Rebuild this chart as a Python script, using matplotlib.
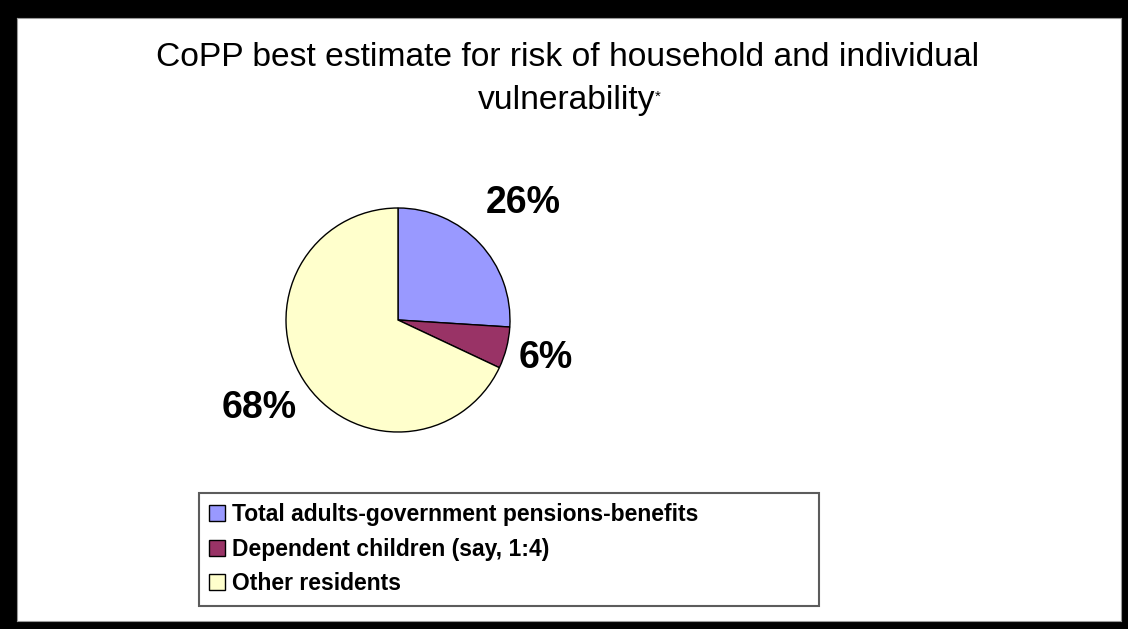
import numpy as np
import matplotlib
matplotlib.use("Agg")
import matplotlib.pyplot as plt
from matplotlib.patches import Rectangle
from matplotlib.text import Annotation

# ---- data ----
categories = ["Total adults-government pensions-benefits",
              "Dependent children (say, 1:4)",
              "Other residents"]
shares = [26, 6, 68]
pct_labels = ["26%", "6%", "68%"]
title_line1 = "CoPP best estimate for risk of household and individual"
title_line2 = "vulnerability"
title_mark = "*"

colors = ["#9999FF", "#993366", "#FFFFCC"]
label_dist = [1.53, 1.36, 1.47]

W, H = 1128, 629
fig = plt.figure(figsize=(W / 100, H / 100), dpi=100, facecolor="black")

def fx(px):
    return px / W

def fy(py):
    return 1 - py / H

# white chart area inside the black frame
bg = fig.add_axes([fx(17), fy(621), fx(1121) - fx(17), fy(18) - fy(621)], zorder=-5)
bg.set_facecolor("white")
bg.set_xticks([])
bg.set_yticks([])
for s in bg.spines.values():
    s.set_edgecolor("#999999")
    s.set_linewidth(0.8)

# title
fig.text(0.503, fy(57), title_line1, ha="center", va="center", fontsize=24.2,
         family="Liberation Sans", color="black")
t2 = fig.text(0.502, fy(101), title_line2, ha="center", va="center", fontsize=24.2,
              family="Liberation Sans", color="black")
star = Annotation(title_mark, xy=(1.0, 1.0), xycoords=t2, xytext=(0, -3),
                  textcoords="offset points", ha="left", va="top", fontsize=11,
                  family="Liberation Sans", color="black")
fig.add_artist(star)

# pie
cx, cy, R = 398, 320, 112
ax = fig.add_axes([fx(cx - R), fy(cy + R), 2 * R / W, 2 * R / H], zorder=2)
wedges, _ = ax.pie(shares, colors=colors, startangle=90, counterclock=False,
                   radius=1.0, wedgeprops=dict(edgecolor="black", linewidth=1.0))
ax.set_xlim(-1, 1)
ax.set_ylim(-1, 1)
ax.set_aspect("auto")
ax.axis("off")

for w, lab, d in zip(wedges, pct_labels, label_dist):
    mid = np.deg2rad((w.theta1 + w.theta2) / 2)
    ax.text(d * np.cos(mid), d * np.sin(mid), lab, ha="center", va="center",
            fontsize=27, fontweight="bold", family="Liberation Sans",
            color="black", clip_on=False)

# legend
handles = [Rectangle((0, 0), 1, 1, facecolor=c, edgecolor="black", linewidth=1.0)
           for c in colors]
leg = fig.legend(handles, categories, loc="upper left", mode="expand",
                 bbox_to_anchor=(fx(199), fy(493), fx(819) - fx(199), 0.0),
                 bbox_transform=fig.transFigure,
                 frameon=True, fancybox=False, borderaxespad=0,
                 prop=dict(family="Liberation Sans", weight="bold", size=16.5),
                 handlelength=0.7, handleheight=0.7, handletextpad=0.3,
                 labelspacing=0.5, borderpad=0.45)
leg.get_frame().set_edgecolor("#333333")
leg.get_frame().set_linewidth(1.5)
leg.set_zorder(3)

fig.savefig("out.png", dpi=100, facecolor="black")
